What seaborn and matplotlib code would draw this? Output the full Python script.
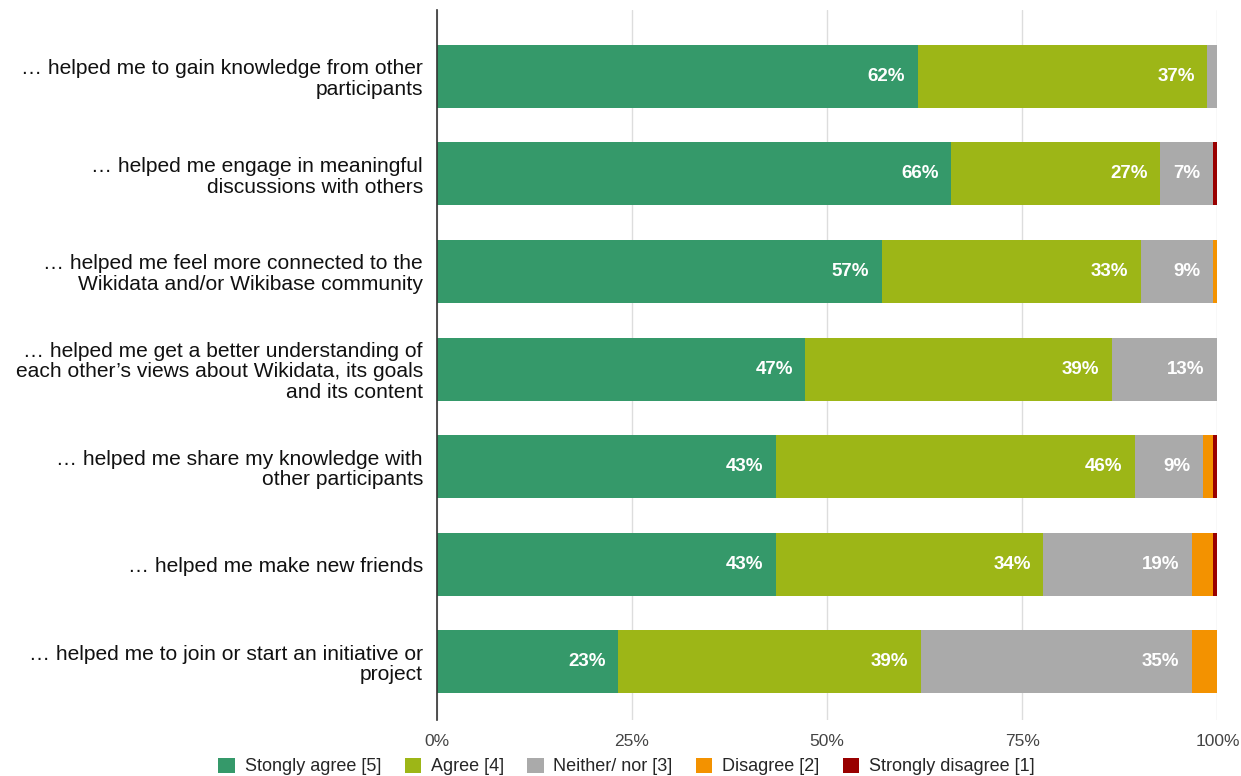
import matplotlib
matplotlib.use("Agg")
import matplotlib.pyplot as plt
import seaborn as sns
import pandas as pd
import numpy as np
from matplotlib.patches import Patch

# statements (y axis)
statements = [
    "… helped me to gain knowledge from other\nparticipants",
    "… helped me engage in meaningful\ndiscussions with others",
    "… helped me feel more connected to the\nWikidata and/or Wikibase community",
    "… helped me get a better understanding of\neach other’s views about Wikidata, its goals\nand its content",
    "… helped me share my knowledge with\nother participants",
    "… helped me make new friends",
    "… helped me to join or start an initiative or\nproject",
]

# answer shares in percent
strongly_agree = [61.6, 65.9, 57.0, 47.2, 43.4, 43.4, 23.2]
agree = [37.1, 26.8, 33.2, 39.3, 46.0, 34.3, 38.8]
neither = [1.3, 6.7, 9.2, 13.4, 8.7, 19.0, 34.7]
disagree = [0.0, 0.0, 0.6, 0.0, 1.3, 2.7, 3.3]
strongly_disagree = [0.0, 0.6, 0.0, 0.0, 0.6, 0.6, 0.0]

answers = ["Stongly agree [5]", "Agree [4]", "Neither/ nor [3]", "Disagree [2]", "Strongly disagree [1]"]
colors = ["#35996a", "#9db617", "#aaaaaa", "#f39200", "#990000"]

sns.set_theme(style="white")
plt.rcParams['font.family'] = ['Liberation Sans', 'DejaVu Sans']

series = [strongly_agree, agree, neither, disagree, strongly_disagree]
df = pd.DataFrame({a: s for a, s in zip(answers, series)}, index=statements)
cum = df.cumsum(axis=1)

fig = plt.figure(figsize=(12.41, 7.76), dpi=100)
ax = fig.add_axes([0.352, 0.072, 0.629, 0.915])

# draw from the last (widest cumulative) layer to the first
for ans, col in reversed(list(zip(answers, colors))):
    d = pd.DataFrame({"stmt": statements, "val": cum[ans].values})
    sns.barplot(data=d, x="val", y="stmt", orient="h", color=col,
                width=0.646, saturation=1, linewidth=0, ax=ax, zorder=2)

# value labels, right-aligned inside segments
for ans in answers:
    for i, st in enumerate(statements):
        v = df.loc[st, ans]
        if v >= 5:
            ax.annotate(f"{v:.0f}%", xy=(cum.loc[st, ans], i), xytext=(-9, 0),
                        textcoords="offset points", ha="right", va="center",
                        color="white", fontsize=13.5, fontweight="bold", zorder=3)

ax.set_xlim(0, 100)
ax.set_ylim(6.6, -0.68)
ax.set_xticks([0, 25, 50, 75, 100])
ax.set_xticklabels(["0%", "25%", "50%", "75%", "100%"], fontsize=12.5, color="#444444")
ax.tick_params(axis="y", labelsize=15.1, length=0, pad=10, labelcolor="#111111")
ax.tick_params(axis="x", length=0, pad=10)
for lab in ax.get_yticklabels():
    lab.set_horizontalalignment("right")
    lab.set_multialignment("right")
    lab.set_linespacing(1.12)
ax.set_xlabel("")
ax.set_ylabel("")
ax.grid(axis="x", color="#dddddd", linewidth=1, zorder=0)
ax.set_axisbelow(True)
for s in ["top", "right", "bottom"]:
    ax.spines[s].set_visible(False)
ax.spines["left"].set_color("#333333")
ax.spines["left"].set_linewidth(1.2)
ax.spines["left"].set_zorder(4)

handles = [Patch(facecolor=c, edgecolor="none") for c in colors]
fig.legend(handles, answers, loc="lower center", bbox_to_anchor=(0.505, -0.02),
           ncol=5, frameon=False, fontsize=13, handlelength=0.9, handleheight=0.9,
           columnspacing=1.3, handletextpad=0.55)

fig.savefig("out.png", dpi=100)
